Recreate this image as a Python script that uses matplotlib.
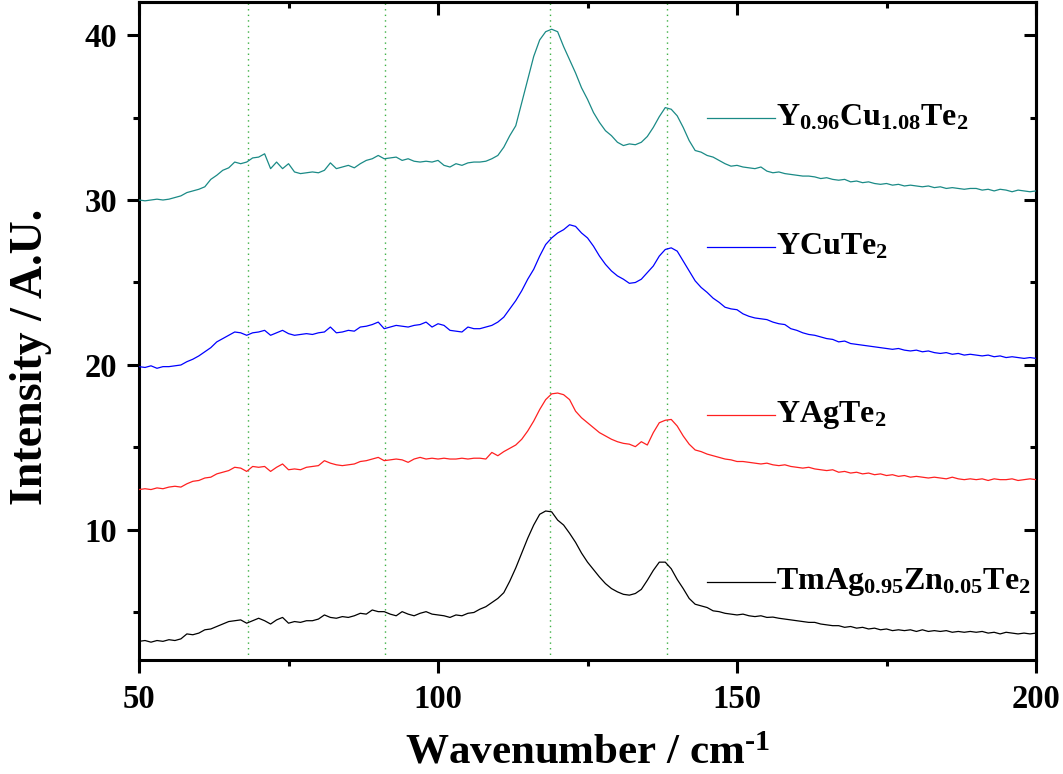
import numpy as np
import matplotlib
matplotlib.use("Agg")
import matplotlib.pyplot as plt
from matplotlib.ticker import MultipleLocator

plt.rcParams['font.family'] = ['Liberation Serif', 'DejaVu Serif']
plt.rcParams['font.weight'] = 'bold'
plt.rcParams['mathtext.fontset'] = 'custom'
plt.rcParams['mathtext.rm'] = 'Liberation Serif:bold'
plt.rcParams['mathtext.bf'] = 'Liberation Serif:bold'
plt.rcParams['mathtext.it'] = 'Liberation Serif:bold'

wavenumber = list(range(50, 201))

y096cu108te2 = [
    30.0, 29.95, 30.0, 30.05, 30.0, 30.05, 30.15, 30.25, 30.45, 30.55,
    30.65, 30.8, 31.25, 31.5, 31.8, 31.95, 32.3, 32.2, 32.3, 32.55,
    32.6, 32.8, 31.9, 32.3, 31.9, 32.2, 31.7, 31.6, 31.65, 31.7,
    31.65, 31.8, 32.25, 31.9, 32.0, 32.1, 31.95, 32.2, 32.4, 32.5,
    32.7, 32.5, 32.55, 32.6, 32.4, 32.5, 32.35, 32.3, 32.35, 32.3,
    32.4, 32.1, 32.0, 32.2, 32.1, 32.25, 32.3, 32.3, 32.35, 32.5,
    32.7, 33.2, 33.9, 34.5, 35.9, 37.3, 38.7, 39.7, 40.2, 40.35,
    40.2, 39.3, 38.5, 37.7, 36.8, 36.1, 35.3, 34.7, 34.2, 33.9,
    33.5, 33.3, 33.4, 33.35, 33.5, 33.85, 34.4, 35.05, 35.6, 35.5,
    35.1, 34.4, 33.6, 33.0, 32.9, 32.7, 32.6, 32.4, 32.2, 32.05,
    32.1, 32.0, 31.95, 31.9, 32.0, 31.75, 31.65, 31.7, 31.6, 31.55,
    31.5, 31.45, 31.45, 31.4, 31.3, 31.35, 31.25, 31.2, 31.25, 31.1,
    31.15, 31.05, 31.1, 31.0, 30.95, 31.0, 30.9, 30.95, 30.85, 30.9,
    30.85, 30.8, 30.85, 30.75, 30.8, 30.7, 30.75, 30.7, 30.65, 30.7,
    30.7, 30.6, 30.65, 30.55, 30.65, 30.6, 30.5, 30.6, 30.55, 30.5,
    30.55]

ycute2 = [
    19.9, 19.85, 19.95, 19.8, 19.9, 19.9, 19.95, 20.0, 20.2, 20.35,
    20.55, 20.8, 21.05, 21.4, 21.6, 21.8, 22.0, 21.95, 21.8, 21.95,
    22.0, 22.1, 21.8, 21.95, 22.1, 21.9, 21.8, 21.85, 21.9, 21.85,
    21.95, 22.0, 22.3, 21.95, 22.0, 22.1, 22.05, 22.3, 22.35, 22.45,
    22.6, 22.2, 22.3, 22.4, 22.35, 22.3, 22.4, 22.45, 22.6, 22.3,
    22.5, 22.4, 22.1, 22.05, 22.0, 22.3, 22.2, 22.2, 22.3, 22.4,
    22.6, 22.9, 23.4, 23.9, 24.5, 25.2, 25.8, 26.6, 27.3, 27.7,
    28.0, 28.2, 28.5, 28.4, 28.0, 27.7, 27.2, 26.6, 26.1, 25.7,
    25.4, 25.2, 24.95, 25.0, 25.2, 25.6, 26.0, 26.6, 27.0, 27.1,
    26.9, 26.3, 25.7, 25.1, 24.7, 24.4, 24.05, 23.8, 23.5, 23.4,
    23.35, 23.1, 22.95, 22.85, 22.8, 22.75, 22.6, 22.5, 22.45, 22.2,
    22.1, 21.95, 21.85, 21.8, 21.7, 21.6, 21.55, 21.4, 21.45, 21.3,
    21.25, 21.2, 21.15, 21.1, 21.05, 21.0, 20.95, 21.0, 20.9, 20.85,
    20.9, 20.8, 20.85, 20.75, 20.7, 20.75, 20.65, 20.7, 20.6, 20.65,
    20.6, 20.55, 20.6, 20.5, 20.55, 20.45, 20.5, 20.45, 20.4, 20.45,
    20.4]

yagte2 = [
    12.45, 12.5, 12.45, 12.55, 12.5, 12.6, 12.65, 12.6, 12.8, 12.95,
    13.0, 13.15, 13.2, 13.4, 13.5, 13.6, 13.8, 13.75, 13.55, 13.85,
    13.8, 13.85, 13.55, 13.8, 14.0, 13.65, 13.7, 13.65, 13.8, 13.85,
    13.9, 14.2, 14.05, 13.95, 13.9, 13.95, 14.0, 14.15, 14.2, 14.3,
    14.4, 14.2, 14.25, 14.3, 14.25, 14.1, 14.3, 14.4, 14.3, 14.35,
    14.3, 14.35, 14.3, 14.3, 14.35, 14.3, 14.35, 14.35, 14.3, 14.7,
    14.5, 14.75, 14.95, 15.15, 15.5, 16.0, 16.6, 17.3, 17.9, 18.25,
    18.3, 18.2, 17.9, 17.2, 16.8, 16.5, 16.2, 15.9, 15.7, 15.5,
    15.35, 15.25, 15.2, 15.05, 15.35, 15.15, 15.9, 16.5, 16.65, 16.7,
    16.3, 15.7, 15.2, 14.85, 14.75, 14.6, 14.5, 14.4, 14.3, 14.25,
    14.15, 14.15, 14.1, 14.05, 14.0, 14.05, 13.95, 13.9, 13.95, 13.85,
    13.8, 13.75, 13.8, 13.7, 13.65, 13.6, 13.65, 13.5, 13.55, 13.45,
    13.5, 13.4, 13.45, 13.35, 13.4, 13.3, 13.35, 13.25, 13.3, 13.2,
    13.25, 13.2, 13.15, 13.2, 13.15, 13.1, 13.2, 13.1, 13.05, 13.1,
    13.05, 13.1, 13.0, 13.1, 13.05, 13.05, 13.1, 13.0, 13.05, 13.1,
    13.05]

tmagzn = [
    3.25, 3.3, 3.2, 3.3, 3.25, 3.35, 3.3, 3.4, 3.7, 3.65,
    3.75, 3.95, 4.0, 4.15, 4.3, 4.45, 4.5, 4.55, 4.35, 4.5,
    4.65, 4.5, 4.3, 4.55, 4.7, 4.35, 4.45, 4.4, 4.5, 4.5,
    4.6, 4.85, 4.7, 4.65, 4.75, 4.7, 4.8, 4.95, 4.9, 5.15,
    5.05, 5.05, 4.9, 4.8, 5.05, 4.9, 4.8, 4.95, 5.05, 4.9,
    4.85, 4.8, 4.7, 4.85, 4.8, 4.95, 5.0, 5.2, 5.35, 5.6,
    5.85, 6.2, 6.9, 7.7, 8.6, 9.5, 10.3, 10.95, 11.15, 11.1,
    10.6, 10.3, 9.8, 9.25, 8.6, 8.05, 7.6, 7.15, 6.75, 6.45,
    6.25, 6.1, 6.05, 6.15, 6.4, 6.95, 7.55, 8.05, 8.05, 7.65,
    7.0, 6.45, 5.85, 5.5, 5.4, 5.3, 5.1, 5.05, 4.95, 4.9,
    4.85, 4.9, 4.8, 4.75, 4.8, 4.7, 4.72, 4.65, 4.6, 4.55,
    4.5, 4.45, 4.4, 4.4, 4.3, 4.25, 4.2, 4.2, 4.1, 4.15,
    4.05, 4.1, 4.0, 4.05, 3.95, 4.0, 3.9, 3.95, 3.9, 3.95,
    3.85, 3.95, 3.85, 3.9, 3.85, 3.9, 3.8, 3.85, 3.8, 3.85,
    3.8, 3.85, 3.75, 3.8, 3.7, 3.8, 3.75, 3.7, 3.75, 3.7,
    3.75]

series = [
    (y096cu108te2, '#1a8a86', r'$\mathregular{Y_{0.96}Cu_{1.08}Te_2}$'),
    (ycute2, '#0000ff', r'$\mathregular{YCuTe_2}$'),
    (yagte2, '#ff2020', r'$\mathregular{YAgTe_2}$'),
    (tmagzn, '#000000', r'$\mathregular{TmAg_{0.95}Zn_{0.05}Te_2}$'),
]
label_y = [35.0, 27.15, 16.95, 6.85]
guide_x = [68.3, 91.1, 118.7, 138.3]

fig = plt.figure(figsize=(10.63, 7.74), dpi=100)
ax = fig.add_axes([0.1308, 0.1473, 0.8438, 0.8501])

for gx in guide_x:
    ax.axvline(gx, color='#3cb043', lw=1.0, ls=(0, (1, 3)), zorder=1)

for (vals, col, lab), ly in zip(series, label_y):
    ax.plot(wavenumber, vals, color=col, lw=0.9, zorder=3)
    ax.plot([145.0, 156.3], [ly, ly], color=col, lw=0.9, zorder=3)
    ax.text(156.6, ly, lab, fontsize=23, va='center', ha='left',
            fontweight='bold', zorder=4)

ax.set_xlim(50, 200)
ax.set_ylim(2.12, 42.0)
ax.xaxis.set_major_locator(MultipleLocator(50))
ax.xaxis.set_minor_locator(MultipleLocator(25))
ax.yaxis.set_major_locator(MultipleLocator(10))
ax.yaxis.set_minor_locator(MultipleLocator(5))
ax.set_yticks([10, 20, 30, 40])

for sp in ax.spines.values():
    sp.set_linewidth(2.2)

ax.tick_params(axis='both', which='major', direction='out', length=9, width=2.2,
               labelsize=23.5)
ax.tick_params(axis='x', which='major', pad=8)
ax.tick_params(axis='y', which='major', pad=7)
ax.tick_params(axis='both', which='minor', direction='out', length=4.5, width=2.2)

# inward ticks on top and right
secx = ax.secondary_xaxis('top')
secx.xaxis.set_major_locator(MultipleLocator(50))
secx.xaxis.set_minor_locator(MultipleLocator(25))
secx.tick_params(axis='x', which='major', direction='in', length=9, width=2.2, labeltop=False)
secx.tick_params(axis='x', which='minor', direction='in', length=4.5, width=2.2)
secx.spines['top'].set_linewidth(2.2)
secy = ax.secondary_yaxis('right')
secy.yaxis.set_major_locator(MultipleLocator(10))
secy.yaxis.set_minor_locator(MultipleLocator(5))
secy.tick_params(axis='y', which='major', direction='in', length=9, width=2.2, labelright=False)
secy.tick_params(axis='y', which='minor', direction='in', length=4.5, width=2.2)
secy.spines['right'].set_linewidth(2.2)

for t in ax.get_xticklabels() + ax.get_yticklabels():
    t.set_fontweight('bold')

ax.set_xlabel(r'Wavenumber / cm$^{\text{-1}}$', fontsize=31, fontweight='bold', labelpad=14)
ax.set_ylabel('Intensity / A.U.', fontsize=33, fontweight='bold')
ax.yaxis.set_label_coords(-0.097, 0.46)

fig.savefig('out.png', dpi=100)
